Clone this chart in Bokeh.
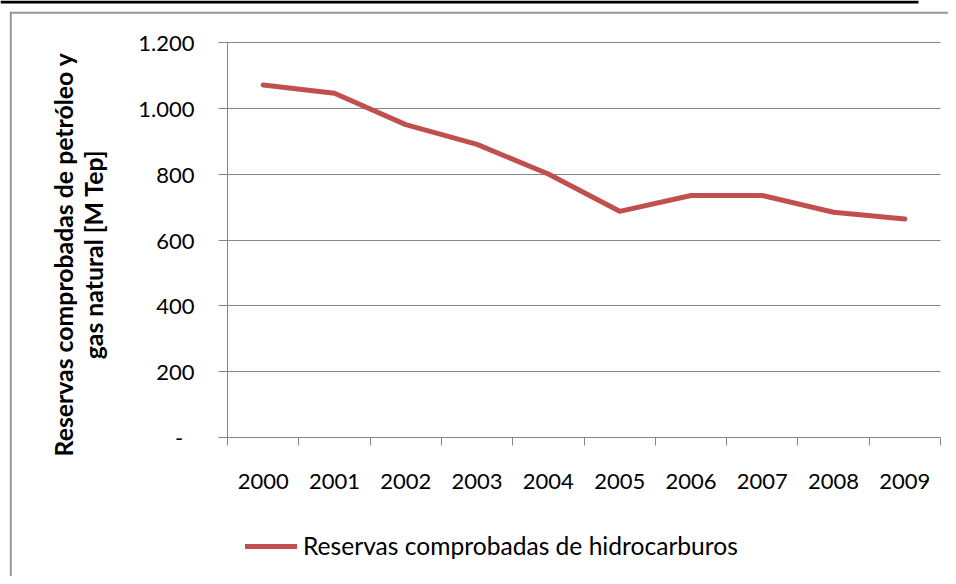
import numpy as np
from bokeh.plotting import figure
from bokeh.models import (Range1d, FixedTicker, Label, Legend, LegendItem,
                          BoxAnnotation)
from bokeh.embed import file_html
from bokeh.resources import INLINE

# ---- data ----
years = ["2000", "2001", "2002", "2003", "2004", "2005", "2006", "2007", "2008", "2009"]
reservas = [1070, 1045, 950, 890, 800, 687, 735, 735, 684, 664]
series_name = "Reservas comprobadas de hidrocarburos"
y_tick_values = [0, 200, 400, 600, 800, 1000, 1200]
y_tick_labels = ["-", "200", "400", "600", "800", "1.000", "1.200"]
y_title_lines = ["Reservas comprobadas de petróleo y", "gas natural [M Tep]"]

FONT = "Lato"
GRAY = "#868686"
FRAME_GRAY = "#969696"
RED = "#C0504D"

# ---- layout (pixels in the picture) ----
W, H = 948, 576
PL, PR, PT, PB = 227.0, 940.0, 41.7, 437.3   # plot area edges
n = len(years)
y_max = y_tick_values[-1]
xpp = n / (PR - PL)
ypp = y_max / (PB - PT)


def px2x(px):
    return (px - PL) * xpp


def py2y(py):
    return (PB - py) * ypp


x_centers = [i + 0.5 for i in range(n)]
x_bounds = [float(i) for i in range(n + 1)]

p = figure(width=W, height=H, output_backend="svg", toolbar_location=None,
           x_range=Range1d(px2x(0), px2x(W)), y_range=Range1d(py2y(H), py2y(0)),
           min_border=0)
p.outline_line_color = None
p.background_fill_color = "white"
p.border_fill_color = "white"

# top black rule and chart outer frame (top and left edges)
p.add_layout(BoxAnnotation(left=px2x(0), right=px2x(918), top=py2y(0), bottom=py2y(3),
                           fill_color="black", fill_alpha=1, line_color=None,
                           level="underlay"))
p.add_layout(BoxAnnotation(left=px2x(9.5), right=px2x(W), top=py2y(11.2),
                           bottom=py2y(13.2), fill_color=FRAME_GRAY, fill_alpha=1,
                           line_color=None, level="underlay"))
p.add_layout(BoxAnnotation(left=px2x(9.3), right=px2x(11.3), top=py2y(11.2),
                           bottom=py2y(H), fill_color=FRAME_GRAY, fill_alpha=1,
                           line_color=None, level="underlay"))

# gridlines
grid = p.ygrid[0]
grid.ticker = FixedTicker(ticks=y_tick_values)
grid.grid_line_color = GRAY
grid.grid_line_width = 1
if "cross_bounds" in grid.properties():
    grid.cross_bounds = (0, n)
else:
    grid.visible = False
    p.segment(x0=[0] * len(y_tick_values), x1=[n] * len(y_tick_values),
              y0=y_tick_values, y1=y_tick_values, line_color=GRAY, line_width=1,
              level="underlay")
p.xgrid.grid_line_color = None

r = p.line(x_centers, reservas, line_color=RED, line_width=5,
           line_join="round", line_cap="round")

# x axis: labels at category centres, ticks at boundaries
xa = p.xaxis[0]
xa.fixed_location = 0
xa.bounds = (0, n)
xa.ticker = FixedTicker(ticks=x_centers, minor_ticks=x_bounds)
xa.major_label_overrides = {c: y for c, y in zip(x_centers, years)}
xa.major_tick_out = 0
xa.major_tick_in = 0
xa.minor_tick_out = 8
xa.minor_tick_in = 0
xa.minor_tick_line_color = GRAY
xa.axis_line_color = GRAY
xa.major_label_text_font = FONT
xa.major_label_text_font_size = "22px"
xa.major_label_text_color = "black"
xa.major_label_standoff = 28

ya = p.yaxis[0]
ya.fixed_location = 0
ya.bounds = (0, y_max)
ya.ticker = FixedTicker(ticks=y_tick_values)
ya.major_label_overrides = {v: (l + "\u00a0\u00a0" if l == "-" else l)
                            for v, l in zip(y_tick_values, y_tick_labels)}
ya.major_tick_out = 9
ya.major_tick_in = 0
ya.minor_tick_line_color = None
ya.major_tick_line_color = GRAY
ya.axis_line_color = GRAY
ya.major_label_text_font = FONT
ya.major_label_text_font_size = "22px"
ya.major_label_text_color = "black"
ya.major_label_standoff = 24

# y-axis title, two lines
for px, txt in zip([63, 93], y_title_lines):
    p.add_layout(Label(x=px2x(px), y=py2y(254), text=txt, angle=np.pi / 2,
                       text_align="center", text_baseline="middle",
                       text_font=FONT, text_font_style="bold",
                       text_font_size="24.8px", text_color="black"))

legend = Legend(items=[LegendItem(label=series_name, renderers=[r])],
                location=(245, H - 560), border_line_color=None,
                background_fill_alpha=0, padding=0, margin=0, spacing=0,
                glyph_width=52, glyph_height=24, label_height=24,
                label_standoff=6, label_text_font=FONT,
                label_text_font_size="24.6px", label_text_color="black")
p.add_layout(legend)

open("out.html", "w").write(file_html(p, INLINE))
